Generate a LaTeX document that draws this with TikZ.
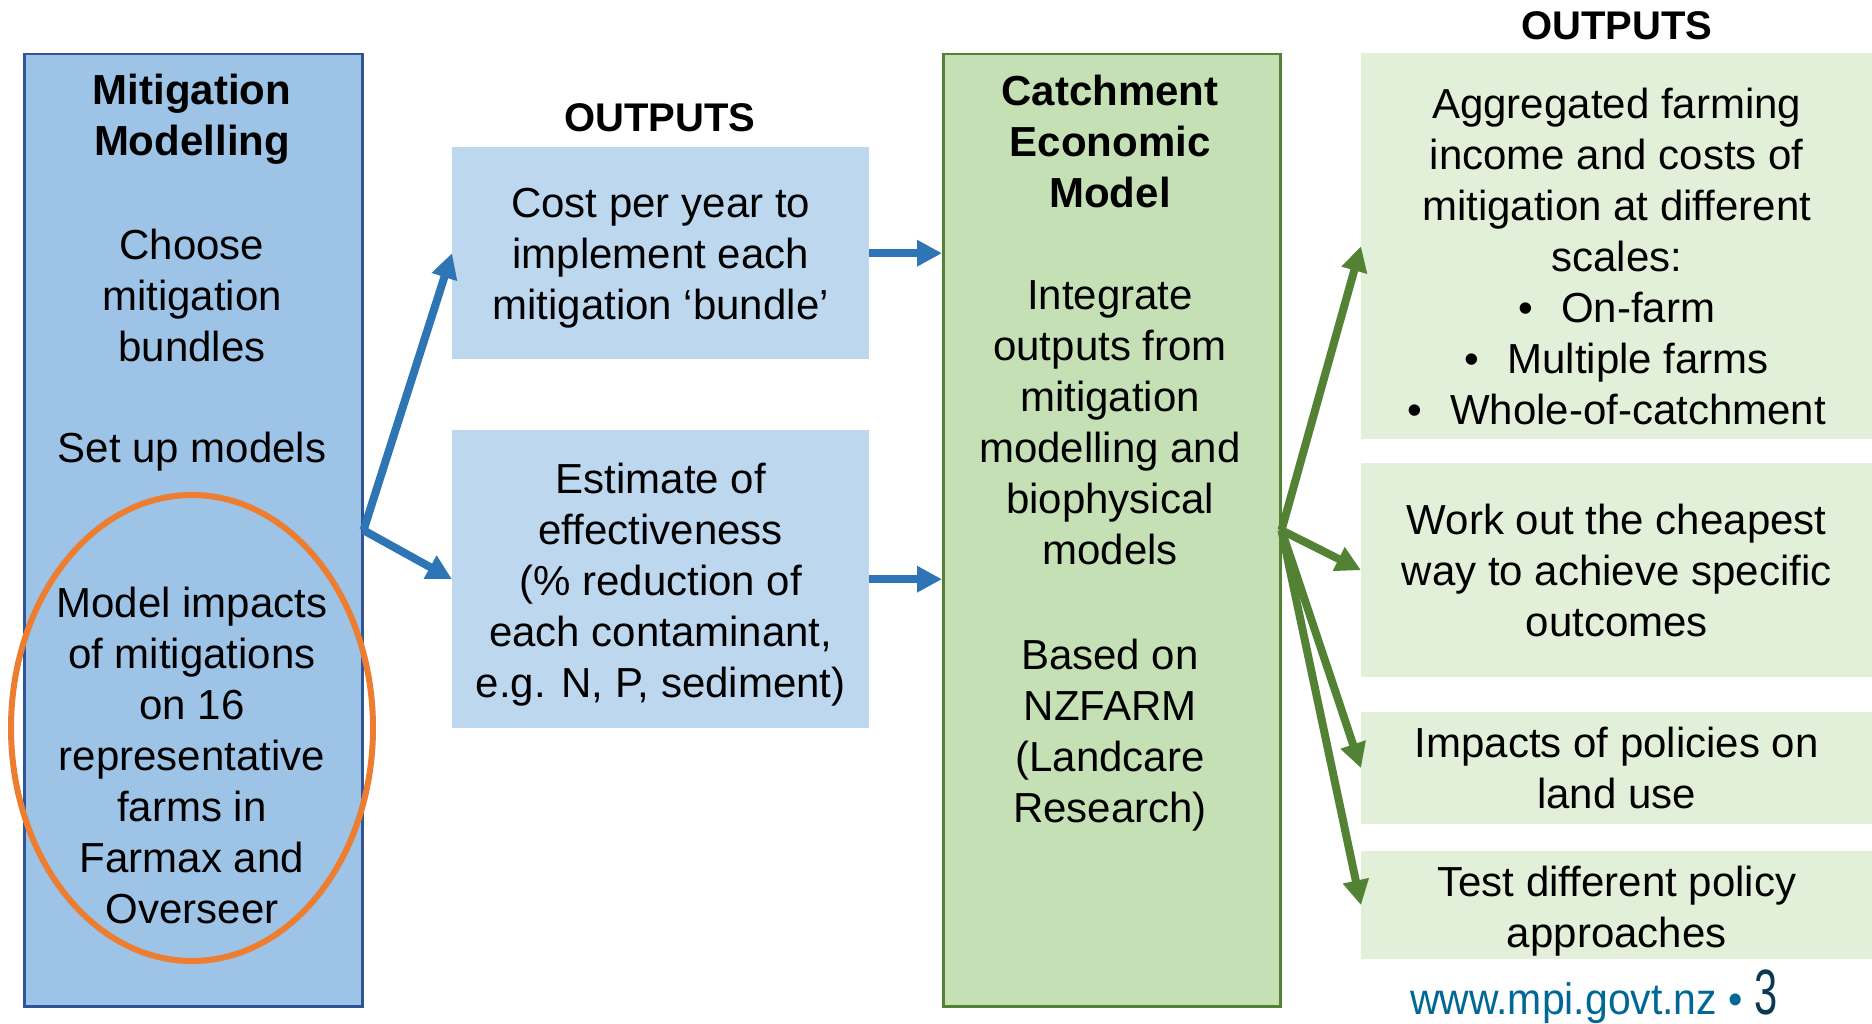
\documentclass[tikz,border=0pt]{standalone}
\usepackage{fontspec}
\setmainfont{Liberation Sans}
\usetikzlibrary{arrows.meta}
\usepackage{xcolor}
\definecolor{mmfill}{RGB}{157,195,230}
\definecolor{mmline}{RGB}{47,85,151}
\definecolor{outblue}{RGB}{189,215,238}
\definecolor{cemfill}{RGB}{197,224,180}
\definecolor{cemline}{RGB}{84,130,53}
\definecolor{outgreen}{RGB}{226,240,217}
\definecolor{arrowblue}{RGB}{46,117,182}
\definecolor{arrowgreen}{RGB}{84,130,53}
\definecolor{ringorange}{RGB}{237,125,49}
\definecolor{urlblue}{RGB}{0,104,150}
\definecolor{pagenavy}{RGB}{12,55,85}

\newcommand{\bodyfont}{\fontsize{42}{51}\selectfont}
\newcommand{\headfont}{\fontsize{42}{51}\selectfont\bfseries}

\tikzset{
  box/.style={rectangle, inner sep=0pt, anchor=north west, align=center, font=\bodyfont},
  bluebox/.style={box, fill=outblue},
  greenbox/.style={box, fill=outgreen},
  txt/.style={align=center, inner sep=0pt, font=\bodyfont},
  head/.style={align=center, inner sep=0pt, font=\headfont},
  outlabel/.style={inner sep=0pt, font=\fontsize{40}{48}\selectfont\bfseries},
  blueflow/.style={draw=arrowblue, line width=8pt, -{Triangle[length=25pt,width=25pt]}},
  greenflow/.style={draw=arrowgreen, line width=8pt, -{Triangle[length=25pt,width=25pt]}},
  ring/.style={draw=ringorange, line width=6pt}
}

\begin{document}
\begin{tikzpicture}[x=1pt, y=-1pt]
\useasboundingbox (0,0) rectangle (1872,1024);

% mitigation modelling column
\node[box, draw=mmline, line width=2.5pt, fill=mmfill, minimum width=338pt, minimum height=952pt] (mm) at (23,53) {};
\node[head] (mmtitle) at (192,119) {Mitigation\\Modelling};
\node[txt] (mmchoose) at (192,295) {Choose\\mitigation\\bundles};
\node[txt] (mmsetup) at (192,452) {Set up models};
\node[txt] (mmfarms) at (192,755) {Model impacts\\of mitigations\\on 16\\representative\\farms in\\Farmax and\\Overseer};
\draw[ring] (192,728) ellipse [x radius=181, y radius=233];

% first outputs
\node[outlabel] (outa) at (660,118) {OUTPUTS};
\node[bluebox, minimum width=417pt, minimum height=212pt] (cost) at (452,147) {};
\node[txt] (costtext) at ([yshift=-5pt]cost.center) {Cost per year to\\implement each\\mitigation ‘bundle’};
\node[bluebox, minimum width=417pt, minimum height=298pt] (est) at (452,430) {};
\node[txt] (esttext) at ([yshift=-5pt]est.center) {Estimate of\\effectiveness\\(\% reduction of\\each contaminant,\\e.g. N, P, sediment)};

% catchment model column
\node[box, draw=cemline, line width=2.5pt, fill=cemfill, minimum width=337pt, minimum height=952pt] (cem) at (942,53) {};
\node[head] (cemtitle) at (1110,141) {Catchment\\Economic\\Model};
\node[txt] (cemint) at (1110,423) {Integrate\\outputs from\\mitigation\\modelling and\\biophysical\\models};
\node[txt] (cembase) at (1110,735) {Based on\\NZFARM\\(Landcare\\Research)};

% second outputs
\node[outlabel] (outb) at (1617,26) {OUTPUTS};
\node[greenbox, minimum width=511pt, minimum height=386pt] (agg) at (1361,53) {};
\node[txt] (aggtext) at ([yshift=-10pt]agg.center) {Aggregated farming\\income and costs of\\mitigation at different\\scales:\\\textbullet\hspace{28pt}On-farm\\\textbullet\hspace{28pt}Multiple farms\\\textbullet\hspace{28pt}Whole-of-catchment};
\node[greenbox, minimum width=511pt, minimum height=214pt] (cheap) at (1361,463) {Work out the cheapest\\way to achieve specific\\outcomes};
\node[greenbox, minimum width=511pt, minimum height=112pt] (pol) at (1361,712) {Impacts of policies on\\land use};
\node[greenbox, minimum width=511pt, minimum height=108pt] (test) at (1361,851) {};
\node[txt] (testtext) at ([yshift=-6pt]test.center) {Test different policy\\approaches};

% connectors
\draw[blueflow] (mm.east) -- (cost.west);
\draw[blueflow] (mm.east) -- (est.west);
\draw[blueflow] (cost.east) -- (cost.east -| cem.west);
\draw[blueflow] (est.east) -- (est.east -| cem.west);
\foreach \target in {agg, cheap, pol, test}
  \draw[greenflow] (cem.east) -- (\target.west);

\node[anchor=base west, inner sep=0pt, text=urlblue, font=\fontsize{44}{44}\selectfont] (url) at (1410,1014)
  {\scalebox{0.93}[1]{www.mpi.govt.nz \textbullet{} \textcolor{pagenavy}{\fontsize{64}{64}\selectfont\scalebox{0.7}[1]{3}}}};
\end{tikzpicture}
\end{document}
